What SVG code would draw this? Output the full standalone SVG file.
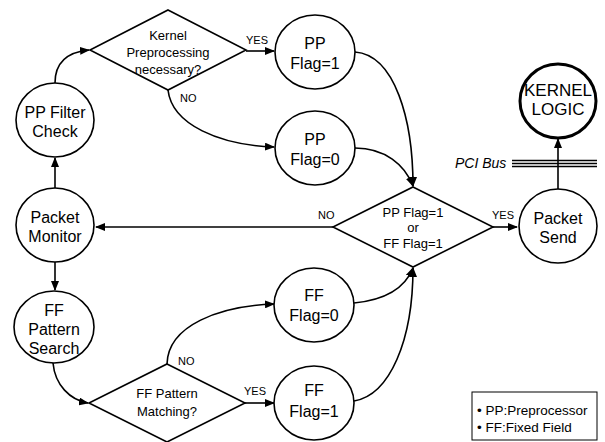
<svg xmlns="http://www.w3.org/2000/svg" width="605" height="442" viewBox="0 0 605 442">
<defs>
<marker id="ah" markerWidth="10" markerHeight="8" refX="9" refY="4" orient="auto" markerUnits="userSpaceOnUse">
<path d="M0,0 L10,4 L0,8 Z" fill="#000"/>
</marker>
<style>
.n{fill:#fff;stroke:#000;stroke-width:1.6}
.t{font-family:"Liberation Sans",Arial,sans-serif;font-size:16px;text-anchor:middle;fill:#000}
.k{font-family:"Liberation Sans",Arial,sans-serif;font-size:17px;text-anchor:middle;fill:#000}
.d{font-family:"Liberation Sans",Arial,sans-serif;font-size:13px;text-anchor:middle;fill:#000}
.l{font-family:"Liberation Sans",Arial,sans-serif;font-size:11px;fill:#000}
.g{font-family:"Liberation Sans",Arial,sans-serif;font-size:13.5px;fill:#000}
.p{font-family:"Liberation Sans",Arial,sans-serif;font-size:14px;font-style:italic;fill:#000}
.c{fill:none;stroke:#000;stroke-width:1.6;marker-end:url(#ah)}
</style>
</defs>
<rect width="605" height="442" fill="#fff"/>
<g id="connectors">
<path class="c" d="M55,83 C55,62 68,52 89,50"/>
<path class="c" d="M246,51 L274,51"/>
<path class="c" d="M168,90 C172,125 220,145 274,147"/>
<path class="c" d="M355,52 C395,55 413,120 413,186"/>
<path class="c" d="M355,148 C385,148 405,165 413,186"/>
<path class="c" d="M333,227 L96,227"/>
<path class="c" d="M493,227 L517,227"/>
<path class="c" d="M558,189 L558,139"/>
<path class="c" d="M55,188 L55,158"/>
<path class="c" d="M55,262 L55,290"/>
<path class="c" d="M53,363 C55,385 70,400 88,403"/>
<path class="c" d="M167,364 C168,325 220,306 274,304"/>
<path class="c" d="M245,403 L274,403"/>
<path class="c" d="M354,303 C385,300 405,288 413,268"/>
<path class="c" d="M354,401 C390,395 413,340 413,268"/>
<text class="l" x="246" y="44">YES</text>
<text class="l" x="180" y="102">NO</text>
<text class="l" x="318" y="219">NO</text>
<text class="l" x="492" y="219">YES</text>
<text class="l" x="178" y="365">NO</text>
<text class="l" x="244" y="395">YES</text>
</g>
<g id="pp-filter-check">
<ellipse class="n" cx="55" cy="120" rx="39" ry="37"/>
<text class="t" x="55" y="118">PP Filter</text>
<text class="t" x="55" y="137">Check</text>
</g>
<g id="kernel-preprocessing">
<polygon class="n" points="168,10 246,50 168,90 90,50"/>
<text class="d" x="168" y="40">Kernel</text>
<text class="d" x="168" y="57">Preprocessing</text>
<text class="d" x="168" y="74">necessary?</text>
</g>
<g id="pp-flag-1">
<ellipse class="n" cx="315" cy="52" rx="40" ry="37"/>
<text class="t" x="315" y="49">PP</text>
<text class="t" x="315" y="69">Flag=1</text>
</g>
<g id="pp-flag-0">
<ellipse class="n" cx="315" cy="148" rx="40" ry="37"/>
<text class="t" x="315" y="145">PP</text>
<text class="t" x="315" y="165">Flag=0</text>
</g>
<g id="packet-monitor">
<ellipse class="n" cx="55" cy="225" rx="39" ry="37"/>
<text class="t" x="55" y="223">Packet</text>
<text class="t" x="55" y="242">Monitor</text>
</g>
<g id="flag-check">
<polygon class="n" points="413,187 493,227 413,267 333,227"/>
<text class="d" x="413" y="217">PP Flag=1</text>
<text class="d" x="413" y="232">or</text>
<text class="d" x="413" y="248">FF Flag=1</text>
</g>
<g id="packet-send">
<ellipse class="n" cx="558" cy="226" rx="39" ry="37"/>
<text class="t" x="558" y="224">Packet</text>
<text class="t" x="558" y="243">Send</text>
</g>
<g id="kernel-logic">
<ellipse cx="558" cy="101" rx="38" ry="37" fill="#fff" stroke="#000" stroke-width="3"/>
<text class="k" x="558" y="96">KERNEL</text>
<text class="k" x="558" y="115">LOGIC</text>
</g>
<g id="pci-bus">
<text class="p" x="455" y="168">PCI Bus</text>
<path d="M512,160.5 H597 M512,163.5 H597 M512,166.5 H597" stroke="#000" stroke-width="1.5"/>
</g>
<g id="ff-pattern-search">
<ellipse class="n" cx="54" cy="327" rx="40" ry="36"/>
<text class="t" x="54" y="316">FF</text>
<text class="t" x="54" y="335">Pattern</text>
<text class="t" x="54" y="354">Search</text>
</g>
<g id="ff-pattern-matching">
<polygon class="n" points="167,364 245,403 167,442 89,403"/>
<text class="d" x="167" y="398">FF Pattern</text>
<text class="d" x="167" y="416">Matching?</text>
</g>
<g id="ff-flag-0">
<ellipse class="n" cx="314" cy="305" rx="40" ry="37"/>
<text class="t" x="314" y="301">FF</text>
<text class="t" x="314" y="321">Flag=0</text>
</g>
<g id="ff-flag-1">
<ellipse class="n" cx="314" cy="403" rx="40" ry="37"/>
<text class="t" x="314" y="396">FF</text>
<text class="t" x="314" y="417">Flag=1</text>
</g>
<g id="legend">
<rect x="472" y="392" width="125" height="48" fill="#fff" stroke="#000" stroke-width="1"/>
<text class="g" x="477" y="415">• PP:Preprocessor</text>
<text class="g" x="477" y="432">• FF:Fixed Field</text>
</g>
</svg>
